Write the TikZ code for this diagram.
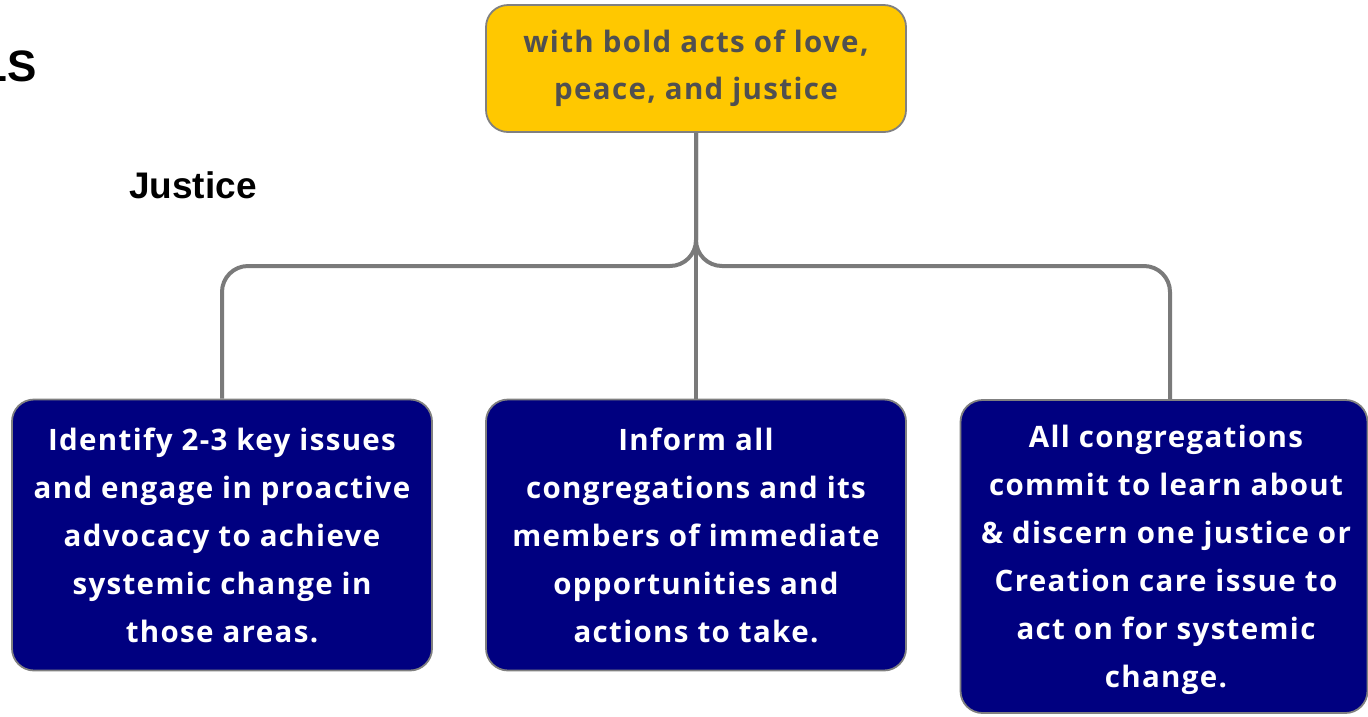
\documentclass[tikz,border=0pt]{standalone}
\usepackage{fontspec}
\setmainfont{Open Sans}[LetterSpace=4.5]
\newfontfamily\arialfont{Liberation Sans}
\definecolor{goldbox}{RGB}{255,200,0}
\definecolor{navybox}{RGB}{0,0,128}
\definecolor{edgegray}{RGB}{128,128,128}
\definecolor{linegray}{RGB}{122,122,122}
\definecolor{darktext}{RGB}{80,80,80}
\tikzset{
  rootbox/.style={draw=edgegray, line width=1.8pt, fill=goldbox, rounded corners=22pt,
    minimum width=420pt, minimum height=127pt, inner sep=0pt, align=center,
    text=darktext, font=\bfseries\fontsize{29.5}{47}\selectfont},
  leafbox/.style={draw=edgegray, line width=1.8pt, fill=navybox, rounded corners=22pt,
    minimum width=420pt, inner sep=0pt, align=center,
    text=white, font=\bfseries\fontsize{29.5}{48}\selectfont},
  conn/.style={draw=linegray, line width=4pt, rounded corners=26pt},
  heading/.style={font=\arialfont\bfseries\fontsize{37}{44}\selectfont, text=black, inner sep=0pt}
}
\begin{document}
\begin{tikzpicture}[x=1pt,y=-1pt]
\useasboundingbox (0,0) rectangle (1368,716);
\node[heading, anchor=east] (ls) at (37,66) {\fontsize{44}{50}\selectfont LS};
\node[heading] (just) at (193,185) {Justice};
\node[rootbox] (root) at (696,68.5) {with bold acts of love,\\peace, and justice};
\node[leafbox, minimum height=271pt] (left) at (222,535) {Identify 2-3 key issues\\and engage in proactive\\advocacy to achieve\\systemic change in\\those areas.};
\node[leafbox, minimum height=271pt] (mid) at (696,535) {Inform all\\congregations and its\\members of immediate\\opportunities and\\actions to take.};
\node[leafbox, minimum width=407pt, minimum height=313pt, text depth=0pt] (right) at (1164,556.5) {};
\node[leafbox, draw=none, fill=none] (righttext) at (1166,559.5) {All congregations\\commit to learn about\\\& discern one justice or\\Creation care issue to\\act on for systemic\\change.};
\draw[conn] (root.south) -- (696,266) -| (left.north);
\draw[conn] (root.south) -- (696,266) -| (right.north -| 1170,0);
\draw[conn] (root.south) -- (mid.north);
\end{tikzpicture}
\end{document}
